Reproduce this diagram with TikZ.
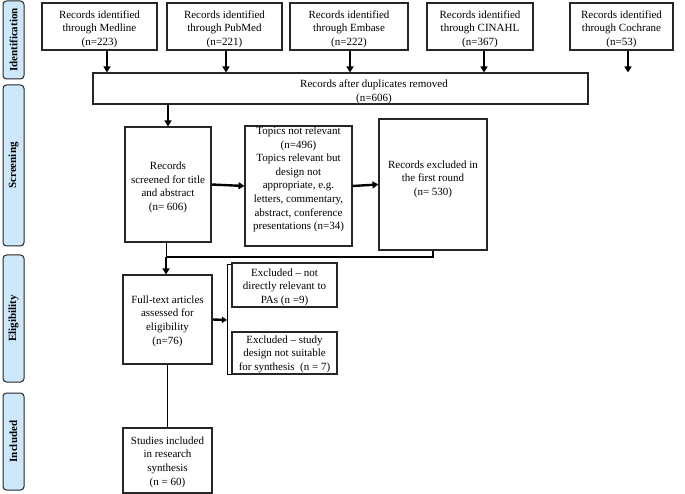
\documentclass[tikz,border=0pt]{standalone}
\usepackage{fontspec}
\setmainfont{Liberation Serif}
\usetikzlibrary{arrows.meta}
\definecolor{sidefill}{HTML}{CDE8FA}
\begin{document}
\begin{tikzpicture}[x=1pt,y=-1pt,
  box/.style={draw=black!85,line width=1.1pt,align=center,font=\fontsize{11}{13.6}\selectfont,inner sep=1pt},
  lbl/.style={align=center,font=\fontsize{11}{13.6}\selectfont,inner sep=0pt},
  side/.style={draw=black!85,line width=1pt,fill=sidefill,rounded corners=3.5pt},
  sidetext/.style={rotate=90,font=\bfseries\fontsize{11}{12}\selectfont},
  arr/.style={line width=2.4pt,-{Triangle[length=6pt,width=7pt]}},
  thick line/.style={line width=2.4pt},
  thin line/.style={line width=1pt}]
\useasboundingbox (0,0) rectangle (685,494);
% side labels
\node[side,minimum width=21pt,minimum height=78pt] (sid) at (13.5,40) {};
\node[sidetext] (tid) at (sid.center) {Identification};
\node[side,minimum width=21pt,minimum height=161pt] (sscr) at (13.5,165.5) {};
\node[sidetext] (tscr) at (sscr.center) {Screening};
\node[side,minimum width=21pt,minimum height=127pt] (seli) at (13.5,318.5) {};
\node[sidetext] (teli) at (seli.center) {Eligibility};
\node[side,minimum width=21pt,minimum height=97pt] (sinc) at (13.5,441.5) {};
\node[sidetext] (tinc) at (sinc.center) {Included};
% top boxes
\node[box,minimum width=115pt,minimum height=47pt] (med) at (99.5,26.5) {};
\node[lbl] (medt) at (99.5,29) {Records identified\\through Medline\\(n=223)};
\node[box,minimum width=115pt,minimum height=47pt] (pub) at (224.5,26.5) {};
\node[lbl] (pubt) at (224.5,29) {Records identified\\through PubMed\\(n=221)};
\node[box,minimum width=118pt,minimum height=47pt] (emb) at (349,26.5) {};
\node[lbl] (embt) at (349,29) {Records identified\\through Embase\\(n=222)};
\node[box,minimum width=106pt,minimum height=47pt] (cin) at (480,26.5) {};
\node[lbl] (cint) at (480,29) {Records identified\\through CINAHL\\(n=367)};
\node[box,minimum width=103pt,minimum height=47pt] (coc) at (621.5,26.5) {};
\node[lbl] (coct) at (621.5,29) {Records identified\\through Cochrane\\(n=53)};
% duplicates
\node[box,minimum width=495pt,minimum height=31pt] (dup) at (340.5,88.5) {};
\node[lbl] (dupt) at (374,92) {Records after duplicates removed\\(n=606)};
\foreach \n/\x in {med/107,pub/226,emb/350,cin/484,coc/628}
  \draw[arr] (\x,0 |- \n.south) -- (\x,0 |- dup.north);
% screening
\node[box,minimum width=86pt,minimum height=115pt] (scr) at (168,184.5) {};
\node[lbl] (scrt) at (168,187.5) {Records\\screened for title\\and abstract\\(n= 606)};
\node[box,minimum width=107pt,minimum height=120pt] (top) at (298.5,186) {};
\node[lbl] (topt) at (298.5,179.5) {Topics not relevant\\(n=496)\\Topics relevant but\\design not\\appropriate, e.g.\\letters, commentary,\\abstract, conference\\presentations (n=34)};
\node[box,minimum width=108pt,minimum height=131pt] (exc) at (433,184.5) {};
\node[lbl] (exct) at (433,179) {Records excluded in\\the first round\\(n= 530)};
\draw[arr] (dup.south -| scr) -- (scr.north);
\draw[arr] (scr.east) -- (top.west);
\draw[arr] (top.east) -- (exc.west);
% eligibility
\node[box,minimum width=89pt,minimum height=89pt] (ful) at (167.5,319.5) {};
\node[lbl] (fult) at (167.5,321) {Full-text articles\\assessed for\\eligibility\\(n=76)};
\coordinate (j1) at (166,257);
\draw[thin line] (scr.south -| j1) -- (j1);
\draw[thick line] (exc.south) -- (exc.south |- j1) -- (j1);
\draw[arr] (j1) -- (j1 |- ful.north);
\node[box,minimum width=105pt,minimum height=44pt] (ex1) at (284.5,285) {};
\node[lbl] (ex1t) at (284.5,287) {Excluded -- not\\directly relevant to\\PAs (n =9)};
\node[box,minimum width=105pt,minimum height=42pt] (ex2) at (284.5,353) {};
\node[lbl] (ex2t) at (284.5,354) {Excluded -- study\\design not suitable\\for synthesis~~(n = 7)};
\coordinate (br) at (227,320);
\draw[thin line] (231,265) -- (227,265) -- (227,374) -- (231,374);
\draw[line width=2.4pt,-{Triangle[length=5pt,width=6pt]}] (ful.east) -- (br);
% included
\node[box,minimum width=89pt,minimum height=65pt] (inc) at (167.5,460.5) {};
\node[lbl] (inct) at (167.5,462) {Studies included\\in research\\synthesis\\(n = 60)};
\draw[thin line] (ful.south) -- (inc.north);
\end{tikzpicture}
\end{document}
